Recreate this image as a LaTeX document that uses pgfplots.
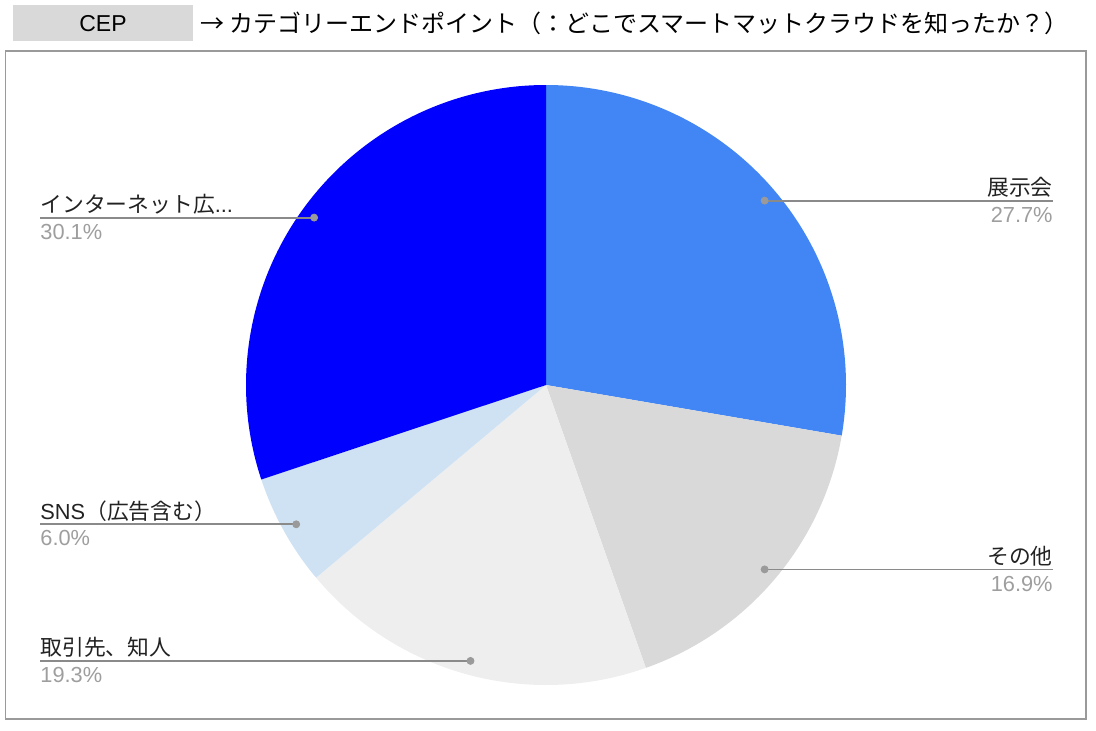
\documentclass[border=0pt]{standalone}
\usepackage{fontspec}
\setmainfont{Liberation Sans}
\newfontfamily\jp{Noto Sans CJK JP}
\usepackage{pgfplots}
\pgfplotsset{compat=1.18}

\definecolor{tenji}{HTML}{4285F4}
\definecolor{sonota}{HTML}{D9D9D9}
\definecolor{torihiki}{HTML}{EEEEEE}
\definecolor{sns}{HTML}{CFE2F3}
\definecolor{inet}{HTML}{0000FF}
\definecolor{leadgray}{HTML}{8A8A8A}
\definecolor{dotgray}{HTML}{9A9A9A}
\definecolor{pctgray}{HTML}{9E9E9E}
\definecolor{framegray}{HTML}{9A9A9A}
\definecolor{boxgray}{HTML}{D9D9D9}
\definecolor{textdark}{HTML}{222222}

% pie: centre (546,345), radius 300 units; 1 unit = 0.5pt
% #1 start (cumulative %), #2 share (%), #3 colour
\newcommand{\slice}[3]{%
  \fill[#3] (axis cs:546,345) -- (axis cs:{546+300*cos(90-3.6*#1)},{345+300*sin(90-3.6*#1)})
    arc[start angle={90-3.6*#1}, end angle={90-3.6*(#1+#2)}, radius=150pt] -- cycle;}

% leader to the right: dot x, dot y, name, share
\newcommand{\rlabel}[4]{%
  \addplot[leadgray, line width=0.9pt, no marks] coordinates {(#1,#2) (1053,#2)};
  \addplot[only marks, mark=*, mark size=1.75pt, dotgray] coordinates {(#1,#2)};
  \node[anchor=base east, inner sep=0, text=textdark] at (axis cs:1053,#2+5) {#3};
  \node[anchor=north east, inner sep=0, text=pctgray] at (axis cs:1053,#2-6) {#4};}
% leader to the left
\newcommand{\llabel}[4]{%
  \addplot[leadgray, line width=0.9pt, no marks] coordinates {(40,#2) (#1,#2)};
  \addplot[only marks, mark=*, mark size=1.75pt, dotgray] coordinates {(#1,#2)};
  \node[anchor=base west, inner sep=0, text=textdark] at (axis cs:40,#2+5) {#3};
  \node[anchor=north west, inner sep=0, text=pctgray] at (axis cs:40,#2-6) {#4};}

\begin{document}
\begin{tikzpicture}
\begin{axis}[
  hide axis, scale only axis,
  x=0.5pt, y=0.5pt,
  xmin=0, xmax=1096, ymin=0, ymax=730,
  clip=false,
  font=\fontsize{10.9}{12}\selectfont
]
\path (axis cs:0,0) rectangle (axis cs:1096,730);

% title
\fill[boxgray] (axis cs:12.7,689.3) rectangle (axis cs:193,725);
\node[text=black, font=\fontsize{11.5}{13}\selectfont] at (axis cs:103,706.5) {CEP};
\node[anchor=west, inner sep=0, text=black, font=\fontsize{12}{14}\selectfont\jp]
  at (axis cs:200,706.5) {→ カテゴリーエンドポイント（：どこでスマートマットクラウドを知ったか？）};

% frame
\draw[framegray, line width=0.6pt] (axis cs:5.5,11) rectangle (axis cs:1086,679);

% slices, clockwise from 12 o'clock
\slice{0}{27.7}{tenji}
\slice{27.7}{16.9}{sonota}
\slice{44.6}{19.3}{torihiki}
\slice{63.9}{6.0}{sns}
\slice{69.9}{30.1}{inet}

\rlabel{764.6}{529.4}{{\jp 展示会}}{27.7\%}
\rlabel{764.6}{160.6}{{\jp その他}}{16.9\%}
\llabel{470.5}{69.1}{{\jp 取引先、知人}}{19.3\%}
\llabel{296.2}{205.7}{SNS{\jp （広告含む）}}{6.0\%}
\llabel{314.1}{512.4}{{\jp インターネット広}...}{30.1\%}
\end{axis}
\end{tikzpicture}
\end{document}
